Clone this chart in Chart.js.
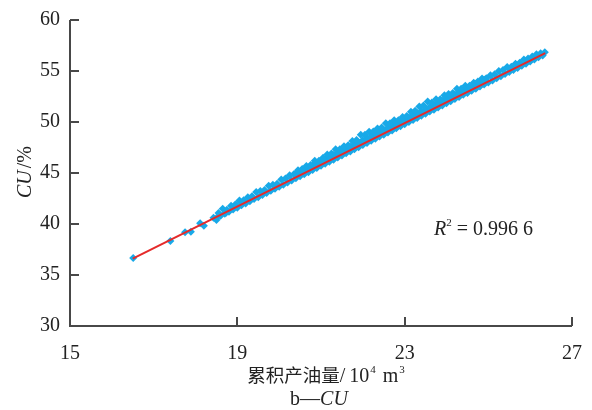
<!DOCTYPE html>
<html>
<head>
<meta charset="utf-8">
<script src="https://cdn.jsdelivr.net/npm/chart.js@4.4.1/dist/chart.umd.min.js"></script>
<style>
html, body { margin: 0; padding: 0; background: #fff; }
#wrap { width: 592px; height: 410px; }
</style>
</head>
<body>
<div id="wrap"><canvas id="cuChart" width="592" height="410"></canvas></div>
<script>
// cumulative oil (10^4 m3) vs CU (%)
const sparseX = [16.51, 17.40, 17.75, 17.89, 18.11, 18.20, 18.43, 18.50, 18.73, 18.98];
const sparseY = [36.67, 38.33, 39.19, 39.25, 40.07, 39.83, 40.62, 40.40, 41.10, 41.86];

const lowX = [18.5, 18.6, 18.7, 18.8, 18.9, 19.0, 19.1, 19.2, 19.3, 19.4, 19.5, 19.6, 19.7, 19.8, 19.9,
  20.0, 20.1, 20.2, 20.3, 20.4, 20.5, 20.6, 20.7, 20.8, 20.9, 21.0, 21.1, 21.2, 21.3, 21.4, 21.5, 21.6,
  21.7, 21.8, 21.9, 22.0, 22.1, 22.2, 22.3, 22.4, 22.5, 22.6, 22.7, 22.8, 22.9, 23.0, 23.1, 23.2, 23.3,
  23.4, 23.5, 23.6, 23.7, 23.8, 23.9, 24.0, 24.1, 24.2, 24.3, 24.4, 24.5, 24.6, 24.7, 24.8, 24.9, 25.0,
  25.1, 25.2, 25.3, 25.4, 25.5, 25.6, 25.7, 25.8, 25.9, 26.0, 26.1, 26.2, 26.3];
const lowY = [40.58, 40.80, 41.00, 41.19, 41.42, 41.60, 41.83, 42.02, 42.22, 42.44, 42.63, 42.85, 43.03, 43.26, 43.45,
  43.66, 43.85, 44.07, 44.26, 44.48, 44.67, 44.88, 45.08, 45.30, 45.49, 45.70, 45.90, 46.11, 46.31, 46.52, 46.72, 46.93,
  47.12, 47.34, 47.53, 47.75, 47.94, 48.16, 48.35, 48.57, 48.76, 48.97, 49.17, 49.38, 49.58, 49.79, 49.99, 50.20, 50.40,
  50.61, 50.81, 51.02, 51.21, 51.43, 51.62, 51.84, 52.03, 52.25, 52.44, 52.66, 52.85, 53.06, 53.26, 53.47, 53.67, 53.88,
  54.08, 54.29, 54.49, 54.70, 54.90, 55.11, 55.30, 55.52, 55.71, 55.93, 56.12, 56.34, 56.53];

const midX = [20.4, 20.5, 20.6, 20.7, 20.8, 20.9, 21.0, 21.1, 21.2, 21.3, 21.4, 21.5, 21.6, 21.7, 21.8, 21.9,
  22.0, 22.1, 22.2, 22.3, 22.4, 22.5, 22.6, 22.7, 22.8, 22.9, 23.0, 23.1, 23.2, 23.3, 23.4, 23.5, 23.6, 23.7,
  23.8, 23.9, 24.0, 24.1, 24.2, 24.3, 24.4, 24.5, 24.6, 24.7, 24.8, 24.9];
const midY = [44.93, 45.13, 45.33, 45.54, 45.74, 45.95, 46.15, 46.36, 46.56, 46.77, 46.97, 47.18, 47.38, 47.58, 47.79, 47.99,
  48.20, 48.40, 48.61, 48.81, 49.02, 49.22, 49.42, 49.63, 49.83, 50.04, 50.24, 50.45, 50.65, 50.86, 51.06, 51.27, 51.47, 51.67,
  51.88, 52.08, 52.29, 52.49, 52.70, 52.90, 53.11, 53.31, 53.51, 53.72, 53.92, 54.13];

const highX = [18.55, 18.65, 18.75, 18.85, 18.95, 19.05, 19.15, 19.25, 19.35, 19.45, 19.55, 19.65, 19.75, 19.85, 19.95,
  20.05, 20.15, 20.25, 20.35, 20.45, 20.55, 20.65, 20.75, 20.85, 20.95, 21.05, 21.15, 21.25, 21.35, 21.45, 21.55,
  21.65, 21.75, 21.85, 21.95, 22.05, 22.15, 22.25, 22.35, 22.45, 22.55, 22.65, 22.75, 22.85, 22.95, 23.05, 23.15,
  23.25, 23.35, 23.45, 23.55, 23.65, 23.75, 23.85, 23.95, 24.05, 24.15, 24.25, 24.35, 24.45, 24.55, 24.65, 24.75,
  24.85, 24.95, 25.05, 25.15, 25.25, 25.35, 25.45, 25.55, 25.65, 25.75, 25.85, 25.95, 26.05, 26.15, 26.25, 26.35];
const highY = [41.09, 41.49, 41.40, 41.80, 41.91, 42.31, 42.32, 42.62, 42.73, 43.13, 43.24, 43.34, 43.74, 43.85, 43.95,
  44.36, 44.46, 44.77, 44.87, 45.28, 45.38, 45.68, 45.79, 46.19, 46.20, 46.50, 46.81, 46.91, 47.32, 47.32, 47.63,
  47.73, 48.13, 48.24, 48.74, 48.75, 49.05, 49.06, 49.36, 49.47, 49.87, 49.87, 50.18, 50.18, 50.49, 50.59, 51.00,
  51.10, 51.51, 51.61, 52.02, 51.92, 52.22, 52.23, 52.63, 52.74, 52.84, 53.25, 53.25, 53.56, 53.56, 53.86, 53.97,
  54.27, 54.28, 54.58, 54.69, 54.99, 55.10, 55.40, 55.41, 55.71, 55.81, 56.12, 56.22, 56.43, 56.63, 56.74, 56.84];

// linear fit line ends
const fitX = [16.5, 26.36];
const fitY = [36.6, 56.76];

const xTicks = [15, 19, 23, 27];
const yTicks = [30, 35, 40, 45, 50, 55, 60];
const r2Text = '0.996 6';

const serif = "'Liberation Serif', 'Noto Sans CJK SC', serif";

function toPoints(xs, ys) {
    return xs.map((x, i) => ({ x: x, y: ys[i] }));
}

const scatterData = [].concat(
    toPoints(sparseX, sparseY),
    toPoints(lowX, lowY),
    toPoints(midX, midY),
    toPoints(highX, highY)
);

// draw runs of text with optional italic / superscript parts
function drawRuns(ctx, runs, x, y, align) {
    let total = 0;
    runs.forEach(r => {
        ctx.font = r.font;
        r.w = ctx.measureText(r.text).width + (r.gap || 0);
        total += r.w;
    });
    let cx = align === 'center' ? x - total / 2 : x;
    runs.forEach(r => {
        ctx.font = r.font;
        ctx.fillText(r.text, cx, y + (r.dy || 0));
        cx += r.w;
    });
}

const axisPlugin = {
    id: 'axisPlugin',
    afterDraw(chart) {
        const ctx = chart.ctx;
        const area = chart.chartArea;
        const xs = chart.scales.x;
        const ys = chart.scales.y;
        ctx.save();
        ctx.strokeStyle = '#484848';
        ctx.lineWidth = 2;
        ctx.beginPath();
        ctx.moveTo(area.left, area.top);
        ctx.lineTo(area.left, area.bottom);
        ctx.lineTo(area.right, area.bottom);
        ctx.stroke();
        yTicks.forEach(v => {
            const py = Math.round(ys.getPixelForValue(v));
            ctx.beginPath();
            ctx.moveTo(area.left, py);
            ctx.lineTo(area.left + 9, py);
            ctx.stroke();
        });
        xTicks.forEach(v => {
            const px = Math.round(xs.getPixelForValue(v));
            ctx.beginPath();
            ctx.moveTo(px, area.bottom);
            ctx.lineTo(px, area.bottom - 9);
            ctx.stroke();
        });

        ctx.fillStyle = '#222';
        ctx.textBaseline = 'alphabetic';
        ctx.textAlign = 'left';
        drawRuns(ctx, [
            { text: '累积产油量', font: "18.5px 'Noto Sans CJK SC'" },
            { text: '/', font: '20px ' + serif, gap: 4 },
            { text: '10', font: '20px ' + serif, gap: 1 },
            { text: '4', font: '11px ' + serif, dy: -9, gap: 2 },
            { text: ' m', font: '20px ' + serif, gap: 1 },
            { text: '3', font: '11px ' + serif, dy: -9 }
        ], 326, 382, 'center');
        drawRuns(ctx, [
            { text: 'b—', font: '20px ' + serif },
            { text: 'CU', font: 'italic 20px ' + serif }
        ], 319, 405, 'center');

        // y title rotated
        ctx.save();
        ctx.translate(31, 172);
        ctx.rotate(-Math.PI / 2);
        drawRuns(ctx, [
            { text: 'CU', font: 'italic 20px ' + serif, gap: 2 },
            { text: '/%', font: '20px ' + serif }
        ], 0, 0, 'center');
        ctx.restore();

        drawRuns(ctx, [
            { text: 'R', font: 'italic 20px ' + serif },
            { text: '2', font: '11px ' + serif, dy: -9 },
            { text: ' = ' + r2Text, font: '20px ' + serif }
        ], 434, 235, 'left');
        ctx.restore();
    }
};

new Chart(document.getElementById('cuChart'), {
    type: 'scatter',
    data: {
        datasets: [{
            type: 'line',
            label: 'fit',
            data: toPoints(fitX, fitY),
            borderColor: '#e52a2a',
            borderWidth: 2,
            pointRadius: 0,
            fill: false
        }, {
            label: 'CU',
            data: scatterData,
            pointStyle: 'rectRot',
            pointRadius: 4,
            pointBackgroundColor: '#18a9e8',
            pointBorderWidth: 0
        }]
    },
    options: {
        responsive: false,
        devicePixelRatio: 1,
        animation: false,
        layout: { padding: { top: 20, right: 20, left: 0, bottom: 0 } },
        plugins: { legend: { display: false }, tooltip: { enabled: false } },
        scales: {
            x: {
                type: 'linear',
                min: 15, max: 27,
                afterBuildTicks: s => { s.ticks = xTicks.map(v => ({ value: v })); },
                afterFit: s => { s.height = 84; s.paddingLeft = 0; s.paddingRight = 0; },
                grid: { display: false, drawTicks: false },
                border: { display: false },
                ticks: { padding: 16, color: '#222', font: { family: serif, size: 20 } }
            },
            y: {
                type: 'linear',
                min: 30, max: 60,
                afterBuildTicks: s => { s.ticks = yTicks.map(v => ({ value: v })); },
                afterFit: s => { s.width = 70; s.paddingTop = 0; s.paddingBottom = 0; },
                grid: { display: false, drawTicks: false },
                border: { display: false },
                ticks: { padding: 10, color: '#222', font: { family: serif, size: 20 } }
            }
        }
    },
    plugins: [axisPlugin]
});
</script>
</body>
</html>
